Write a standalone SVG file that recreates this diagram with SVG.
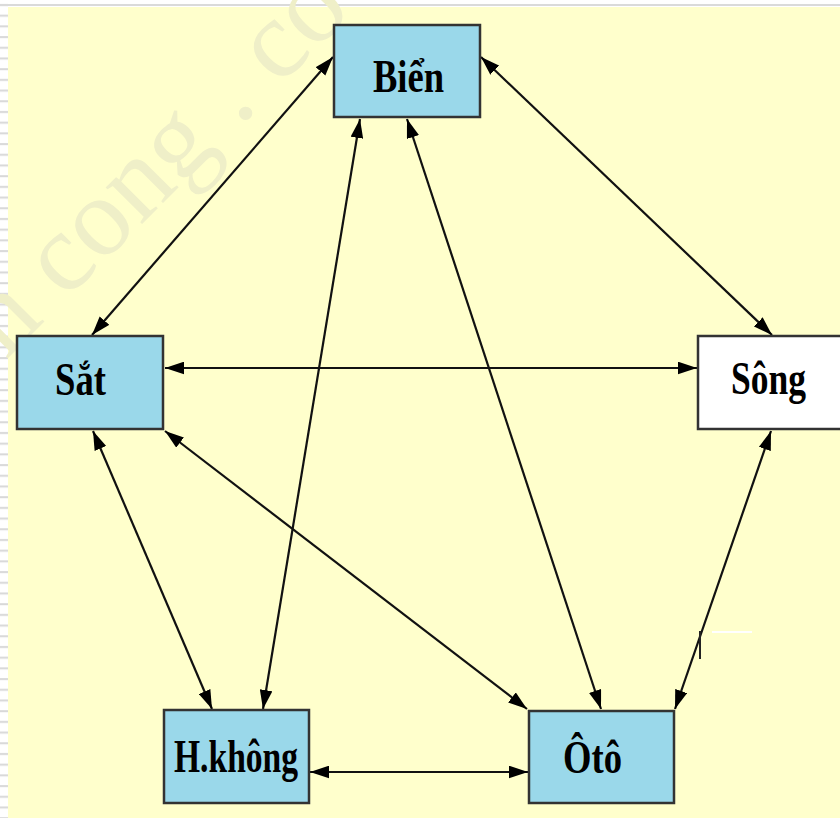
<svg xmlns="http://www.w3.org/2000/svg" width="840" height="818" viewBox="0 0 840 818">
  <defs>
    <style>
      .box { stroke: #333333; stroke-width: 2.5; }
      .blue { fill: #9AD8EA; }
      .white { fill: #FFFFFF; }
      .lbl { font-family: "Liberation Serif", "Times New Roman", serif; font-weight: bold; font-size: 46px; fill: #000000; }
      .link { stroke: #111111; stroke-width: 2.2; fill: none; marker-start: url(#head); marker-end: url(#head); }
    </style>
    <marker id="head" viewBox="0 0 18 12" refX="18" refY="6" markerWidth="19" markerHeight="13" markerUnits="userSpaceOnUse" orient="auto-start-reverse">
      <path d="M0,0 L18,6 L0,12 z" fill="#000000"/>
    </marker>
    <pattern id="stripes" width="8" height="10.7" patternUnits="userSpaceOnUse">
      <rect width="8" height="10.7" fill="#FFFFFF"/>
      <rect y="4" width="8" height="2" fill="#D8D8D8"/>
    </pattern>
  </defs>

  <!-- page frame -->
  <rect width="840" height="818" fill="#FFFFFF"/>
  <rect x="0" y="0" width="8" height="818" fill="url(#stripes)"/>
  <rect x="0" y="4" width="840" height="2" fill="#DADADA"/>
  <rect x="8" y="7" width="832" height="811" fill="#FFFFCC"/>

  <!-- faint watermark -->
  <text x="6" y="360" transform="rotate(-45 6 360)" font-family="Liberation Serif, serif" font-size="112" fill="#EFEFC8">n cong . co</text>

  <!-- connectors -->
  <g id="connectors">
    <line class="link" x1="333" y1="57" x2="92" y2="335"/>
    <line class="link" x1="481" y1="57" x2="772" y2="335"/>
    <line class="link" x1="165" y1="368" x2="697" y2="368"/>
    <line class="link" x1="360" y1="119" x2="263" y2="709"/>
    <line class="link" x1="407" y1="119" x2="601" y2="709"/>
    <line class="link" x1="93" y1="431" x2="212" y2="709"/>
    <line class="link" x1="165" y1="431" x2="527" y2="709"/>
    <line class="link" x1="771" y1="431" x2="675" y2="709"/>
    <line class="link" x1="310" y1="772" x2="528" y2="772"/>
  </g>

  <!-- stray mark -->
  <rect x="699" y="631" width="2" height="28" fill="#222222"/>
  <rect x="712" y="631" width="40" height="2" fill="#FFFFFF"/>

  <g id="bien">
    <rect class="box blue" x="334" y="25" width="146" height="92"/>
    <text class="lbl" x="373" y="92" textLength="71" lengthAdjust="spacingAndGlyphs">Biển</text>
  </g>
  <g id="sat">
    <rect class="box blue" x="17" y="336" width="146" height="93"/>
    <text class="lbl" x="55" y="395" textLength="51" lengthAdjust="spacingAndGlyphs">Sắt</text>
  </g>
  <g id="song">
    <rect class="box white" x="698" y="336" width="150" height="93"/>
    <text class="lbl" x="731" y="394" textLength="75" lengthAdjust="spacingAndGlyphs">Sông</text>
  </g>
  <g id="hkhong">
    <rect class="box blue" x="164" y="710" width="145" height="93"/>
    <text class="lbl" x="174" y="772" textLength="124" lengthAdjust="spacingAndGlyphs">H.không</text>
  </g>
  <g id="oto">
    <rect class="box blue" x="529" y="711" width="145" height="92"/>
    <text class="lbl" x="563" y="773" textLength="59" lengthAdjust="spacingAndGlyphs">Ôtô</text>
  </g>
</svg>
